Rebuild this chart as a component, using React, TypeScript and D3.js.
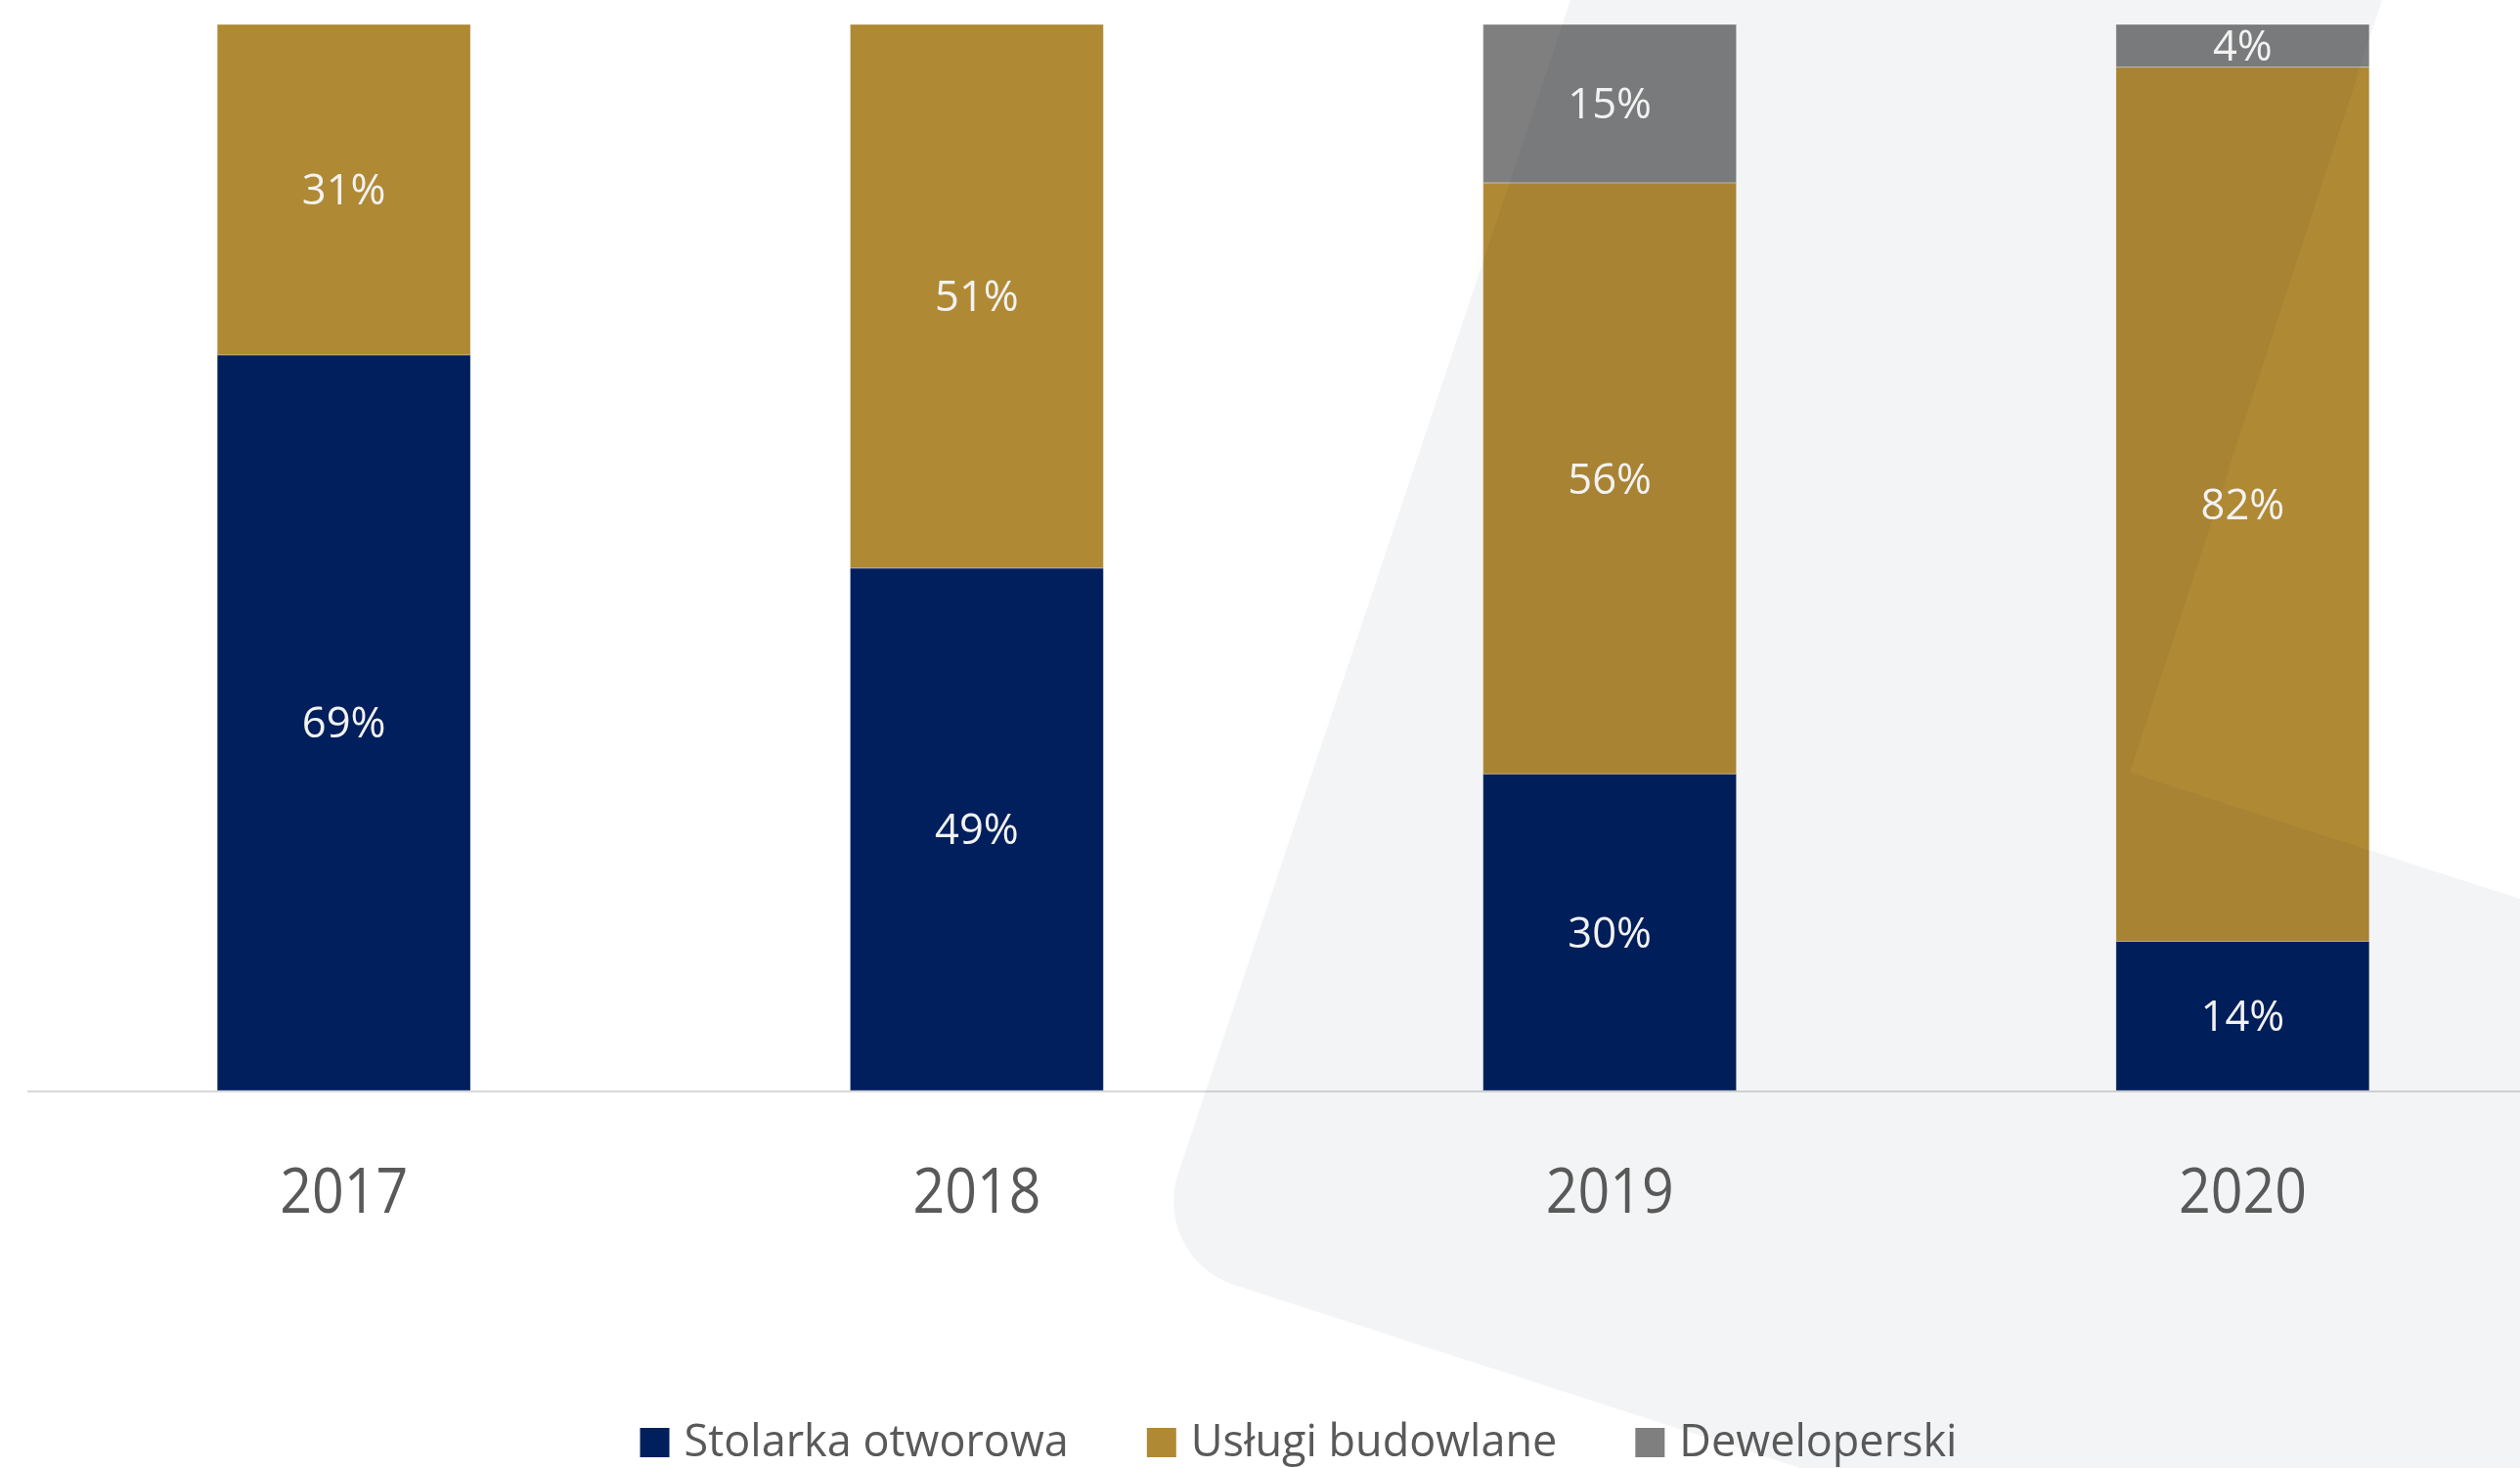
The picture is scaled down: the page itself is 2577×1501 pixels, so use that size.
import React, { useEffect, useRef } from "react";
import * as d3 from "d3";

const years = ["2017", "2018", "2019", "2020"];
const seriesNames = ["Stolarka otworowa", "Usługi budowlane", "Deweloperski"];
const stolarka = [69, 49, 30, 14];
const uslugi = [31, 51, 56, 82];
const deweloperski = [0, 0, 15, 4];
const seriesColors = ["#001f5c", "#b08935", "#7f7f7f"];

const W = 2577;
const H = 1501;

export default function App() {
  const ref = useRef<SVGSVGElement | null>(null);

  useEffect(() => {
    const svg = d3.select(ref.current);
    svg.selectAll("*").remove();

    const keys = ["s0", "s1", "s2"];
    const rows = years.map((y, i) => ({
      year: y,
      s0: stolarka[i],
      s1: uslugi[i],
      s2: deweloperski[i],
    }));
    const stack = d3.stack<any>().keys(keys).offset(d3.stackOffsetExpand);
    const series = stack(rows);

    const x = d3
      .scaleBand<string>()
      .domain(years)
      .range([28, 2617])
      .paddingInner(0.6)
      .paddingOuter(0.3);
    const y = d3.scaleLinear().domain([0, 1]).range([1115, 25]);
    const color = d3.scaleOrdinal<string, string>().domain(keys).range(seriesColors);

    svg.append("rect").attr("width", W).attr("height", H).attr("fill", "#ffffff");

    // bars
    const g = svg.append("g");
    series.forEach((s, si) => {
      g.selectAll(null)
        .data(s)
        .enter()
        .append("rect")
        .attr("x", (d: any) => x(d.data.year) as number)
        .attr("width", x.bandwidth())
        .attr("y", (d: any) => y(d[1]))
        .attr("height", (d: any) => Math.max(0, y(d[0]) - y(d[1])))
        .attr("fill", color(keys[si]))
        .attr("stroke", "#ffffff")
        .attr("stroke-opacity", (d: any) => (d[1] - d[0] > 0 ? 0.3 : 0))
        .attr("stroke-width", 1);
    });

    // axis baseline
    svg
      .append("line")
      .attr("x1", 28)
      .attr("x2", W)
      .attr("y1", y(0) + 1)
      .attr("y2", y(0) + 1)
      .attr("stroke", "#d9d9d9")
      .attr("stroke-width", 2);

    // background decorative shape (multiplied on top)
    const r = 90;
    const corner = [1176, 1286];
    const p1 = [corner[0] + r * 0.317, corner[1] - r * 0.949];
    const p2 = [corner[0] + r * 0.951, corner[1] + r * 0.307];
    const path = `M1606,0 L2436,0 L2178,790 L${W},919 L${W},${H} L1841,${H} L${p2[0]},${p2[1]} A${r},${r} 0 0 1 ${p1[0]},${p1[1]} Z`;
    svg
      .append("path")
      .attr("d", path)
      .attr("fill", "#f3f4f6")
      .style("mix-blend-mode", "multiply");

    // value labels
    const fsLab = 43.5;
    series.forEach((s, si) => {
      const vals = [stolarka, uslugi, deweloperski][si];
      svg
        .append("g")
        .selectAll("text")
        .data(s.map((d: any, i: number) => ({ d, v: vals[i] })).filter((o) => o.v > 0))
        .enter()
        .append("text")
        .attr("x", (o: any) => (x(o.d.data.year) as number) + x.bandwidth() / 2)
        .attr("y", (o: any) => (y(o.d[0]) + y(o.d[1])) / 2 + 0.357 * fsLab)
        .attr("text-anchor", "middle")
        .attr("font-family", "'Open Sans', sans-serif")
        .attr("font-size", fsLab)
        .attr("fill", "#f2f2f2")
        .text((o: any) => `${o.v}%`);
    });

    // year labels
    svg
      .append("g")
      .selectAll("text")
      .data(years)
      .enter()
      .append("text")
      .attr("x", (d) => (x(d) as number) + x.bandwidth() / 2)
      .attr("y", 1240)
      .attr("text-anchor", "middle")
      .attr("font-family", "'Open Sans', sans-serif")
      .attr("font-size", 64)
      .attr("textLength", 131)
      .attr("lengthAdjust", "spacingAndGlyphs")
      .attr("fill", "#595959")
      .text((d) => d);

    // legend
    const lg = svg.append("g");
    const items = seriesNames.map((name, i) => {
      const it = lg.append("g");
      it.append("rect")
        .attr("width", 30)
        .attr("height", 30)
        .attr("y", 1460)
        .attr("fill", seriesColors[i]);
      const t = it
        .append("text")
        .attr("x", 45)
        .attr("y", 1489)
        .attr("font-family", "'Open Sans', sans-serif")
        .attr("font-size", 45)
        .attr("fill", "#595959")
        .text(name);
      const tw = (t.node() as SVGTextElement).getComputedTextLength();
      return { it, w: 45 + tw };
    });
    const gap = 80;
    const total = items.reduce((a, b) => a + b.w, 0) + gap * (items.length - 1);
    let cx = 1328 - total / 2;
    items.forEach((o) => {
      o.it.attr("transform", `translate(${cx},0)`);
      cx += o.w + gap;
    });
  }, []);

  return (
    <svg
      ref={ref}
      width={W}
      height={H}
      style={{ position: "absolute", left: 0, top: 0, display: "block" }}
    />
  );
}
